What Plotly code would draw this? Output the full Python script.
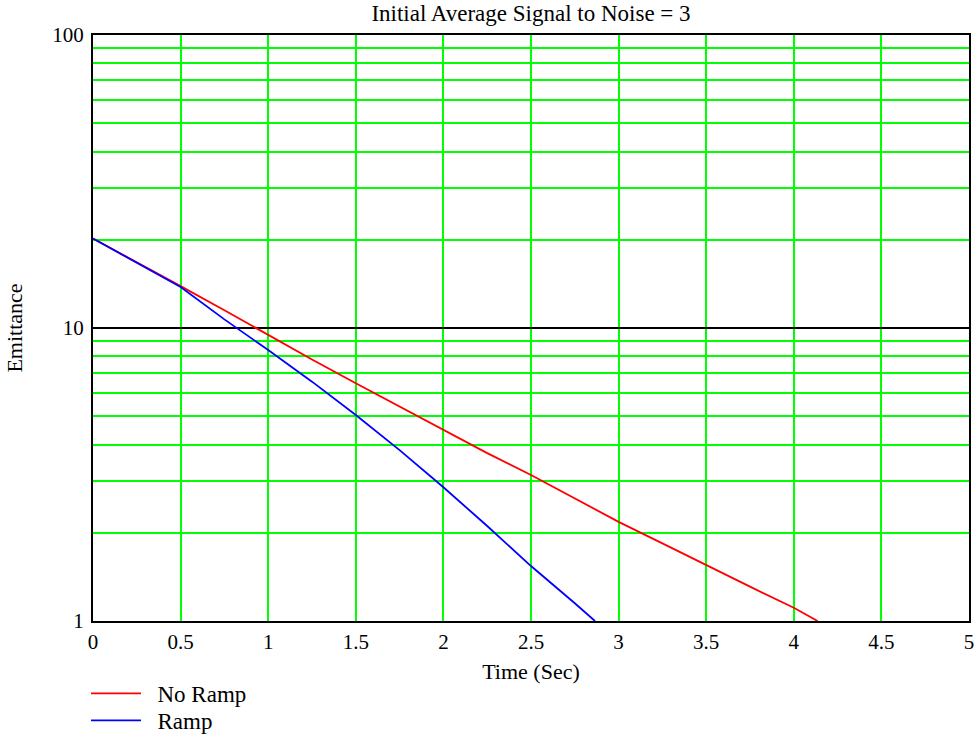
import plotly.graph_objects as go

# Time axis samples (s)
t_no_ramp = [0, 0.25, 0.5, 0.75, 1.0, 1.25, 1.5, 1.75, 2.0, 2.25, 2.5, 2.75, 3.0, 3.25, 3.5, 3.75, 4.0, 4.136]
emit_no_ramp = [20.2, 16.8, 13.9, 11.5, 9.46, 7.81, 6.48, 5.39, 4.50, 3.74, 3.15, 2.62, 2.18, 1.84, 1.55, 1.31, 1.11, 1.0]

t_ramp = [0, 0.25, 0.5, 0.75, 1.0, 1.25, 1.5, 1.75, 2.0, 2.25, 2.5, 2.75, 2.865]
emit_ramp = [20.2, 16.7, 13.8, 10.7, 8.41, 6.56, 5.05, 3.83, 2.86, 2.11, 1.54, 1.15, 1.0]

y_major = [1, 10, 100]
y_minor = [2, 3, 4, 5, 6, 7, 8, 9, 20, 30, 40, 50, 60, 70, 80, 90]

FONT = "Liberation Serif, Times New Roman, serif"
W, H = 979, 742
M_L, M_R, M_T = 93, 10, 35
PLOT_BOTTOM = 621
paper_h = H - M_T

fig = go.Figure()
fig.add_trace(go.Scatter(x=t_no_ramp, y=emit_no_ramp, mode="lines", name="\u00a0\u00a0No Ramp",
                         line=dict(color="#ff0000", width=1.8), legend="legend"))
fig.add_trace(go.Scatter(x=t_ramp, y=emit_ramp, mode="lines", name="\u00a0\u00a0Ramp",
                         line=dict(color="#0000ff", width=1.8), legend="legend2"))

leg_common = dict(xref="paper", x=(86 - M_L) / (W - M_L - M_R), xanchor="left",
                  bgcolor="rgba(0,0,0,0)", borderwidth=0,
                  font=dict(family=FONT, size=23, color="black"), itemwidth=50)

fig.update_layout(
    template="none",
    width=W, height=H, autosize=False,
    margin=dict(l=M_L, r=M_R, t=M_T, b=0, pad=0),
    paper_bgcolor="white", plot_bgcolor="white",
    font=dict(family=FONT, size=21, color="black"),
    title=dict(text="Initial Average Signal to Noise = 3", xref="paper", x=0.5, xanchor="center",
               yref="container", y=1 - 13 / H, yanchor="middle",
               font=dict(family=FONT, size=23, color="black")),
    showlegend=True,
    legend=dict(yref="paper", y=(H - 672) / paper_h, yanchor="top", **leg_common),
    legend2=dict(yref="paper", y=0.0, yanchor="bottom", **leg_common),
)

fig.update_xaxes(
    range=[0, 5], dtick=0.5, tick0=0, automargin=False,
    showgrid=True, gridcolor="#00ff00", gridwidth=1.5,
    showline=True, mirror=True, linecolor="black", linewidth=2,
    zeroline=False, ticks="", ticklabelstandoff=1,
    tickfont=dict(family=FONT, size=21),
    title=dict(text="Time (Sec)", standoff=10, font=dict(family=FONT, size=22)),
)

fig.update_yaxes(
    type="log", range=[0, 2], automargin="left",
    domain=[(H - PLOT_BOTTOM) / paper_h, 1],
    tickmode="array", tickvals=y_major, ticktext=[str(v) for v in y_major],
    showgrid=True, gridcolor="black", gridwidth=1.5,
    minor=dict(tickmode="array", tickvals=y_minor, showgrid=True, gridcolor="#00ff00", gridwidth=1.5, ticks=""),
    showline=True, mirror=True, linecolor="black", linewidth=2,
    zeroline=False, ticks="", ticklabelstandoff=3,
    tickfont=dict(family=FONT, size=21),
    title=dict(text="Emittance", standoff=24, font=dict(family=FONT, size=22)),
)

fig.write_html("out.html", config={"displayModeBar": False},
               post_script="document.body.style.margin='0';")
